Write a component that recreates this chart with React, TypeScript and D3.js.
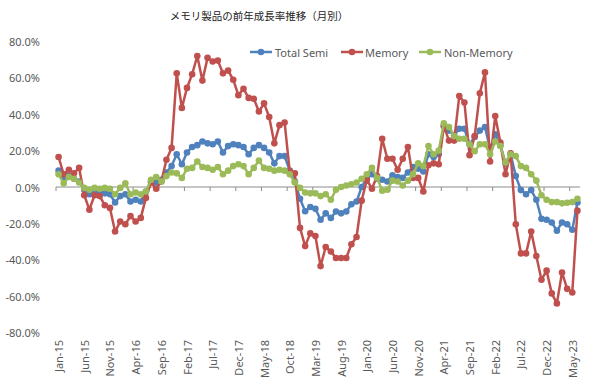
import React from "react";
import * as d3 from "d3";

const title = "メモリ製品の前年成長率推移（月別）";
const seriesNames = ["Total Semi", "Memory", "Non-Memory"];
const seriesColors = ["#4F81BD", "#C0504D", "#9BBB59"];

const monthNames = ["Jan","Feb","Mar","Apr","May","Jun","Jul","Aug","Sep","Oct","Nov","Dec"];
const months: string[] = [];
for (let y = 15; y <= 23; y++) {
  for (let m = 0; m < 12; m++) {
    if (y === 23 && m > 5) break;
    months.push(`${monthNames[m]}-${y}`);
  }
}

const totalSemi = [
  9, 5.5, 6, 4.5, 3, -1.5, -4, -3, -3, -3.5,
  -4, -8.5, -5, -4, -8, -7, -8, -2.5, 3, 2.5,
  4, 8, 11.5, 18, 12.5, 19, 22, 23, 25, 24,
  23.5, 25, 19, 22.5, 23.5, 23, 22, 18, 21.5, 23,
  21.5, 19, 13, 17, 17, 9, 3, -6.5, -13.3, -11,
  -12, -18, -14.5, -17, -13.5, -14.5, -13.5, -9.5, -8, 0,
  5, 7, 4.5, 4, 3, 6.5, 5.5, 5, 8, 11,
  10, 8.5, 18, 16.5, 18, 33.5, 31, 28.5, 32, 32,
  23.5, 27.5, 31, 33, 21, 29, 23, 13, 18, 6,
  -1.7, -4, -1.7, -7, -17.5, -18, -19.5, -24, -19.5, -20.5,
  -23.5, -8.5,
];

const memory = [
  16.5, 7, 9.5, 7.5, 10.5, -4.5, -12.5, -4.5, -5, -10,
  -11.5, -24.5, -19, -20.5, -16, -19, -17, -6, 2.5, -1,
  3, 15, 21.5, 62.5, 43.5, 54.5, 62, 72, 58.5, 71,
  69, 69.5, 62.5, 64, 59, 50.5, 54, 49, 48.5, 41.5,
  46, 38.5, 24, 34, 35.5, 8.5, 7.5, -22.5, -32.5, -25.5,
  -27, -43.5, -33, -35.5, -39, -39, -39, -31.5, -27.5, -7.5,
  4, -1, 6, 26.5, 15.5, 15.5, 9.5, 15.5, 22, 5,
  5, -2.5, 12, 13, 12.5, 33.5, 25.5, 25.5, 50, 46.5,
  17.5, 28, 51.5, 63, 14, 39, 24.5, 7, 18.5, -20.5,
  -36.5, -36.5, -24.5, -38, -51, -46, -58.5, -64, -47, -56,
  -58, -13,
];

const nonMemory = [
  7, 2, 5.5, 4.5, 2.5, -0.5, -1.5, -0.5, -1, -0.5,
  -1, -4, -0.5, 2, -4, -3, -4, -2.5, 4, 5.5,
  3, 6, 8, 7.5, 5, 10, 10.5, 14, 11, 10.5,
  9.5, 11, 7, 9, 11.5, 12.5, 11.5, 7, 10.5, 14.5,
  10.5, 10, 9, 9.5, 9, 7, 2.5, -0.5, -3, -3.5,
  -3.5, -5, -4, -7, -1.5, 0, 0.8, 1.5, 2.5, 4.5,
  7, 10.5, 5, -2, -1.5, 3.5, 3, 0.8, 3.5, 7,
  13, 11.5, 22.5, 18, 20, 35, 33, 28, 26.5, 26.5,
  23.5, 19.7, 23.5, 23.5, 18, 25, 22.5, 13.5, 18, 17,
  11.5, 10.5, 7, 3.5, -4.5, -7, -8.3, -8.3, -9, -8.7,
  -8.3, -6.5,
];

const yTicks = [80, 60, 40, 20, 0, -20, -40, -60, -80];
const labelEvery = 5;

const W = 590;
const H = 383;

export default function App() {
  const x = d3.scaleBand<number>().domain(d3.range(months.length)).range([56, 580]).padding(0);
  const bw = x.bandwidth();
  const cx = (i: number) => (x(i) as number) + bw / 2;
  const y = d3.scaleLinear().domain([-80, 80]).range([332.5, 41.5]);
  const line = d3.line<number>().x((_, i) => cx(i)).y((d) => y(d));

  const allSeries = [totalSemi, memory, nonMemory];
  const font = "'Noto Sans', 'DejaVu Sans', sans-serif";
  const textColor = "#595959";

  const legendItems = [
    { x0: 250, tx: 275 },
    { x0: 341, tx: 365 },
    { x0: 419, tx: 444 },
  ];

  return (
    <svg width={W} height={H} style={{ position: "absolute", left: 0, top: 0, background: "#fff" }}
      fontFamily={font}>
      <rect width={W} height={H} fill="#fff" />
      <text x={259} y={15} textAnchor="middle" dominantBaseline="central" fontSize={10.5}
        fontFamily="'Noto Sans CJK JP', sans-serif" fill="#222">{title}</text>

      {yTicks.map((t) => (
        <text key={t} x={40} y={y(t)} textAnchor="end" dominantBaseline="central" fontSize={11} fill={textColor}>
          {t.toFixed(1) + "%"}
        </text>
      ))}

      <line x1={56} x2={580} y1={y(0)} y2={y(0)} stroke="#8c8c8c" strokeWidth={1} />
      {d3.range(0, months.length + 1, labelEvery).map((i) => {
        const xx = i < months.length ? (x(i) as number) : 580;
        return <line key={"t" + i} x1={xx} x2={xx} y1={y(0)} y2={y(0) + 4} stroke="#8c8c8c" strokeWidth={1} />;
      })}

      {months.map((m, i) =>
        i % labelEvery === 0 ? (
          <text key={m} transform={`translate(${cx(i)},340) rotate(-90)`} textAnchor="end"
            dominantBaseline="central" fontSize={11} fill={textColor}>{m}</text>
        ) : null
      )}

      {allSeries.map((s, k) => (
        <g key={seriesNames[k]}>
          <path d={line(s) as string} fill="none" stroke={seriesColors[k]} strokeWidth={2.5} strokeLinejoin="round" />
          {s.map((v, i) => (
            <circle key={i} cx={cx(i)} cy={y(v)} r={3.3} fill={seriesColors[k]} />
          ))}
        </g>
      ))}

      {seriesNames.map((n, k) => (
        <g key={"lg" + n}>
          <line x1={legendItems[k].x0} x2={legendItems[k].x0 + 22} y1={52} y2={52} stroke={seriesColors[k]} strokeWidth={2.5} />
          <circle cx={legendItems[k].x0 + 11} cy={52} r={3.3} fill={seriesColors[k]} />
          <text x={legendItems[k].tx} y={52} dominantBaseline="central" fontSize={11} fill={textColor}>{n}</text>
        </g>
      ))}
    </svg>
  );
}
